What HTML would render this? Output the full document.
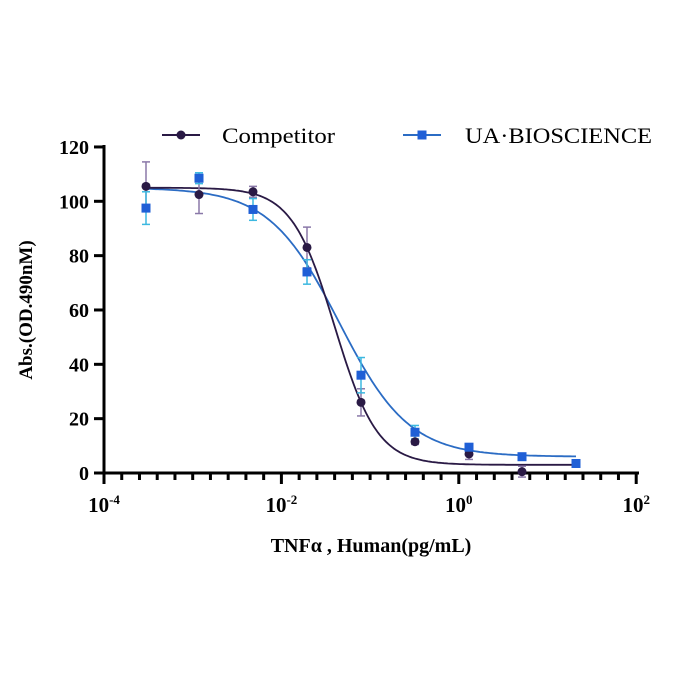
<!DOCTYPE html>
<html><head><style>body{margin:0;background:#fff}svg{display:block}</style></head>
<body>
<svg id="s" width="682" height="682" xmlns="http://www.w3.org/2000/svg" font-family="Liberation Serif, serif">
<g id="g"></g>
</svg>
<script>
const g=document.getElementById('g');let h='';
const X=l=>104+(l+4)*88.7, Y=v=>473-v*2.717;
h+=`<line x1="104" y1="145" x2="104" y2="475" stroke="#000" stroke-width="3"/>`;
h+=`<line x1="102" y1="473" x2="639" y2="473" stroke="#000" stroke-width="3"/>`;
for(let v=0;v<=120;v+=20){h+=`<line x1="94" y1="${Y(v)}" x2="104" y2="${Y(v)}" stroke="#000" stroke-width="3"/><text x="89" y="${Y(v)+7}" text-anchor="end" font-size="20" font-weight="bold">${v}</text>`;}
for(let i=0;i<=30;i++){const x=104+i*88.7/5;const maj=i%10==0;h+=`<line x1="${x}" y1="473" x2="${x}" y2="${maj?484:480}" stroke="#000" stroke-width="3"/>`;}
[[-4,'-4'],[-2,'-2'],[0,'0'],[2,'2']].forEach(([l,s])=>{h+=`<text x="${X(l)}" y="512" text-anchor="middle" font-size="21" font-weight="bold">10<tspan dy="-8" font-size="13">${s}</tspan></text>`});
h+=`<text x="371" y="552" text-anchor="middle" font-size="20" font-weight="bold">TNFα , Human(pg/mL)</text>`;
h+=`<text transform="translate(32,310) rotate(-90)" text-anchor="middle" font-size="19" font-weight="bold">Abs.(OD.490nM)</text>`;
function curve(top,bot,ic,hl,col){let d='';for(let p=146;p<=576;p+=2){const x=-4+(p-104)/88.7;const y=bot+(top-bot)/(1+Math.pow(10,(x-ic)*hl));d+=(d?'L':'M')+p+','+Y(y).toFixed(1);}return `<path d="${d}" fill="none" stroke="${col}" stroke-width="1.8"/>`;}
h+=curve(105,6,-1.35,1.1,'#2b6cc4');
h+=curve(105,3,-1.4,1.8,'#2a1a45');
const px=[146,199,253,307,361,415,469,522,576];
const comp=[[105.5,9],[102.5,7],[103.5,2],[83,7.5],[26,5],[11.5,1],[7,2],[0.5,2]];
const blue=[[97.5,6],[108.5,2],[97,4],[74,4.5],[36,6.5],[15,2.5],[9.5,1],[6,0.5],[3.5,0.5]];
comp.forEach(([v,e],i)=>{const x=px[i];h+=`<line x1="${x}" y1="${Y(v+e)}" x2="${x}" y2="${Y(v-e)}" stroke="#8a78a8" stroke-width="1.5"/><line x1="${x-4}" y1="${Y(v+e)}" x2="${x+4}" y2="${Y(v+e)}" stroke="#8a78a8" stroke-width="1.5"/><line x1="${x-4}" y1="${Y(v-e)}" x2="${x+4}" y2="${Y(v-e)}" stroke="#8a78a8" stroke-width="1.5"/>`});
blue.forEach(([v,e],i)=>{const x=px[i];h+=`<line x1="${x}" y1="${Y(v+e)}" x2="${x}" y2="${Y(v-e)}" stroke="#3cb8e0" stroke-width="1.5"/><line x1="${x-4}" y1="${Y(v+e)}" x2="${x+4}" y2="${Y(v+e)}" stroke="#3cb8e0" stroke-width="1.5"/><line x1="${x-4}" y1="${Y(v-e)}" x2="${x+4}" y2="${Y(v-e)}" stroke="#3cb8e0" stroke-width="1.5"/>`});
comp.forEach(([v],i)=>{h+=`<circle cx="${px[i]}" cy="${Y(v)}" r="4.5" fill="#2a1a45"/>`});
blue.forEach(([v],i)=>{h+=`<rect x="${px[i]-4.5}" y="${Y(v)-4.5}" width="9" height="9" fill="#1f5fd6"/>`});
h+=`<line x1="162" y1="135" x2="200" y2="135" stroke="#2a1a45" stroke-width="2"/><circle cx="181" cy="135" r="4.5" fill="#2a1a45"/><text x="222" y="143" font-size="22" textLength="113" lengthAdjust="spacingAndGlyphs">Competitor</text>`;
h+=`<line x1="403" y1="135" x2="441" y2="135" stroke="#2b6cc4" stroke-width="2"/><rect x="417.5" y="130.5" width="9" height="9" fill="#1f5fd6"/><text x="465" y="143" font-size="22" textLength="187" lengthAdjust="spacingAndGlyphs">UA·BIOSCIENCE</text>`;
g.innerHTML=h;
</script>
</body></html>
